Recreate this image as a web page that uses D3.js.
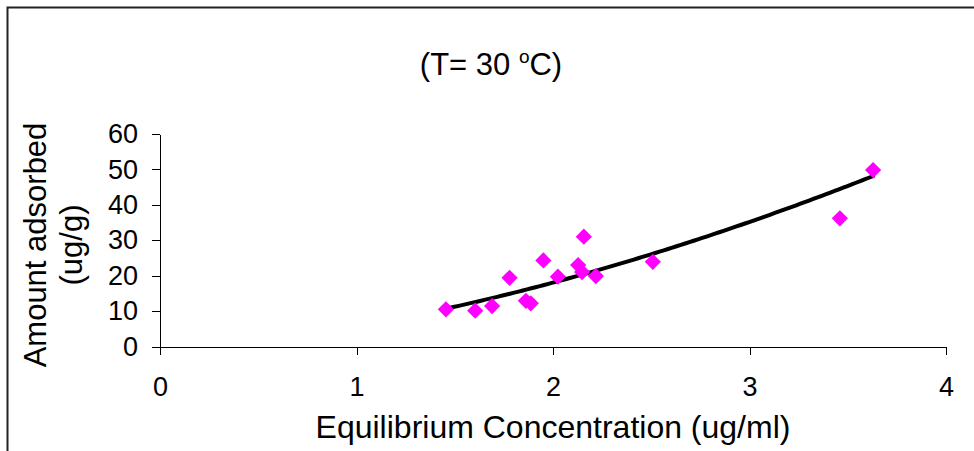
<!doctype html>
<html>
<head>
  <meta charset="utf-8" />
  <script src="https://cdnjs.cloudflare.com/ajax/libs/d3/7.8.5/d3.min.js"></script>
  <style>
  body{
    margin: 0;
    background: #ffffff;
    font-family: "Liberation Sans", Arial, sans-serif;
  }
  .axis path, .axis line{
    stroke: #000000;
    shape-rendering: crispEdges;
  }
  .axis text{
    font-size: 27px;
    fill: #000000;
  }
  </style>
</head>
<body>
  <div id="viz"></div>

  <script>
  // equilibrium concentration (ug/ml) and amount adsorbed (ug/g), T = 30 C
  var concentration = [1.455, 1.604, 1.690, 1.779, 1.862, 1.887, 1.951, 2.025, 2.128, 2.148, 2.157, 2.218, 2.508, 3.460, 3.629];
  var adsorbed      = [10.5, 10.1, 11.4, 19.4, 12.9, 12.2, 24.3, 19.7, 23.0, 21.0, 31.0, 19.9, 23.9, 36.2, 49.8];
  var xTicks = [0, 1, 2, 3, 4];
  var yTicks = [0, 10, 20, 30, 40, 50, 60];

  var width = 974,
    height = 451;

  var svg = d3.select("#viz")
    .append("svg")
    .attr("width", width)
    .attr("height", height);

  // outer frame (only top and left edges show in the picture)
  svg.append("path")
    .attr("d", "M7.5,451V7.5H974")
    .attr("fill", "none")
    .attr("stroke", "#222")
    .attr("stroke-width", 2);

  var x = d3.scaleLinear().domain([0, 4]).range([160, 946]);
  var y = d3.scaleLinear().domain([0, 60]).range([346.5, 134]);

  svg.append("g")
    .attr("class", "axis")
    .attr("transform", "translate(0," + y(0) + ")")
    .call(d3.axisBottom(x).tickValues(xTicks).tickSize(8).tickSizeOuter(0).tickPadding(22).tickFormat(d3.format("d")));

  svg.append("g")
    .attr("class", "axis")
    .attr("transform", "translate(" + x(0) + ",0)")
    .call(d3.axisLeft(y).tickValues(yTicks).tickSize(8).tickSizeOuter(0).tickPadding(14).tickFormat(d3.format("d")));

  // power trendline y = a*x^b, least squares on logs (as the spreadsheet does)
  var lx = concentration.map(Math.log),
    ly = adsorbed.map(Math.log);
  var mx = d3.mean(lx), my = d3.mean(ly);
  var sxy = d3.sum(lx, function(v, i){ return (v - mx) * (ly[i] - my); });
  var sxx = d3.sum(lx, function(v){ return (v - mx) * (v - mx); });
  var b = sxy / sxx,
    a = Math.exp(my - b * mx);

  var xmin = d3.min(concentration), xmax = d3.max(concentration);
  var trend = d3.range(0, 101).map(function(i){
    var cx = xmin + (xmax - xmin) * i / 100;
    return [cx, a * Math.pow(cx, b)];
  });

  svg.append("path")
    .datum(trend)
    .attr("fill", "none")
    .attr("stroke", "#000")
    .attr("stroke-width", 4)
    .attr("stroke-linecap", "round")
    .attr("d", d3.line()
      .x(function(d){ return x(d[0]); })
      .y(function(d){ return y(d[1]); }));

  svg.append("g")
    .selectAll("path")
    .data(concentration)
    .enter().append("path")
    .attr("d", d3.symbol().type(d3.symbolSquare).size(132))
    .attr("fill", "#ff00ff")
    .attr("transform", function(d, i){
      return "translate(" + x(d) + "," + y(adsorbed[i]) + ") rotate(45)";
    });

  // chart title
  var title = svg.append("text")
    .attr("x", 491)
    .attr("y", 75)
    .attr("text-anchor", "middle")
    .attr("font-size", 31);
  title.append("tspan").text("(T= 30 ");
  title.append("tspan").attr("font-size", 19).attr("dy", -12).text("o");
  title.append("tspan").attr("dy", 12).text("C)");

  svg.append("text")
    .attr("x", (x(0) + x(4)) / 2)
    .attr("y", 438)
    .attr("text-anchor", "middle")
    .attr("font-size", 32)
    .text("Equilibrium Concentration (ug/ml)");

  var ytitle = svg.append("text")
    .attr("transform", "translate(0,245) rotate(-90)")
    .attr("text-anchor", "middle")
    .attr("font-size", 31);
  ytitle.append("tspan").attr("x", 0).attr("y", 46).text("Amount adsorbed");
  ytitle.append("tspan").attr("x", 0).attr("y", 82).text("(ug/g)");
  </script>
</body>
</html>
